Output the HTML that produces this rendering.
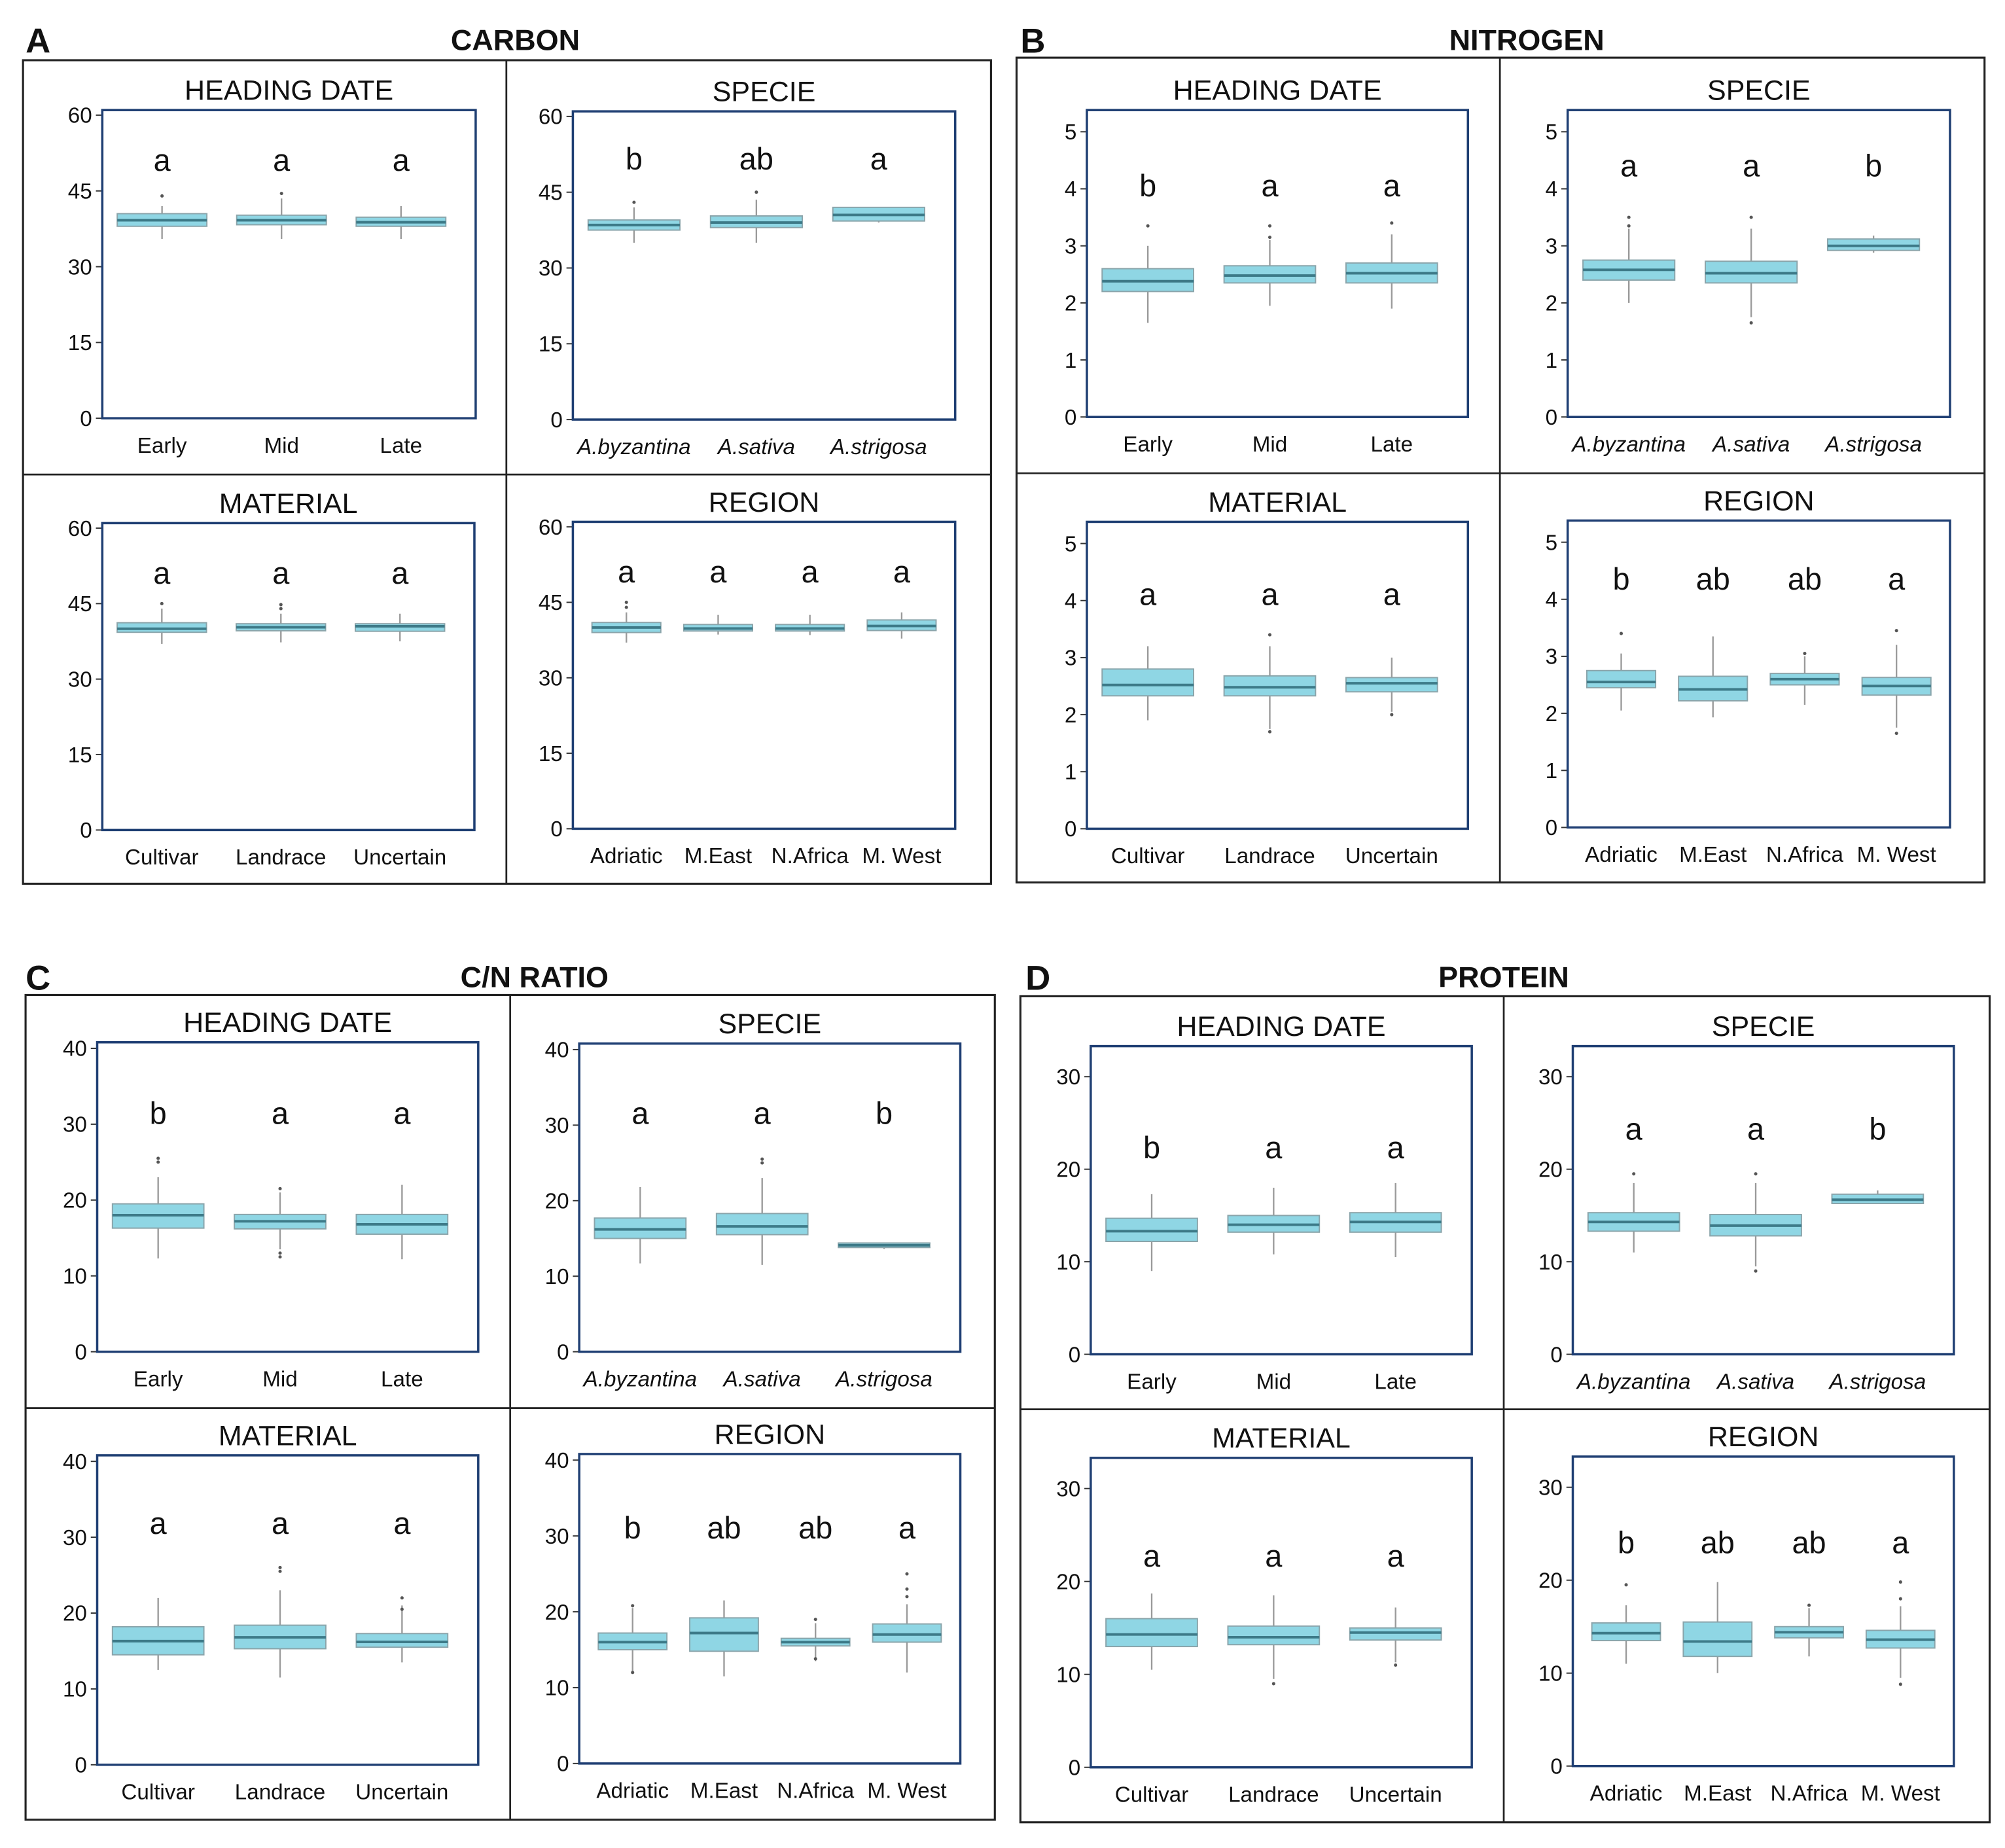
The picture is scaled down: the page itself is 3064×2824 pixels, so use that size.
<!DOCTYPE html>
<html><head><meta charset="utf-8">
<style>
html,body{margin:0;padding:0;background:#fff;}
svg{display:block;}
text{font-family:"Liberation Sans","DejaVu Sans",sans-serif;fill:#111;}
</style></head>
<body>
<svg id="fig" width="3064" height="2824" viewBox="0 0 1568 1445" xmlns="http://www.w3.org/2000/svg"></svg>
<script>
// ---- data: categories ----
const catHD = ["Early","Mid","Late"];
const catSP = ["A.byzantina","A.sativa","A.strigosa"];
const catMA = ["Cultivar","Landrace","Uncertain"];
const catRE = ["Adriatic","M.East","N.Africa","M. West"];
// ---- tick labels ----
const ticksC = [0,15,30,45,60];
const ticksN = [0,1,2,3,4,5];
const ticksR = [0,10,20,30,40];
const ticksP = [0,10,20,30];
// ---- box stats [whiskerLow, q1, median, q3, whiskerHigh] ----
const carbonHD = [[35.5,38,39.2,40.5,42],[35.5,38.3,39.2,40.2,43.5],[35.5,38,38.8,39.8,42]];
const carbonHDout = [[44],[44.5],[]];
const carbonSP = [[35,37.5,38.5,39.5,42],[35,38,39,40.3,43.5],[39,39.3,40.5,42,42]];
const carbonSPout = [[43],[45],[]];
const carbonMA = [[37,39.3,40,41.2,44],[37.3,39.6,40.3,41,43],[37.5,39.5,40.5,41,43]];
const carbonMAout = [[45],[44,44.8],[]];
const carbonRE = [[37,39,40,41,43],[38.6,39.3,39.8,40.6,42.5],[38.5,39.3,39.8,40.6,42.5],[37.8,39.4,40.3,41.5,43]];
const carbonREout = [[44,45],[],[],[]];
const nitroHD = [[1.65,2.2,2.38,2.6,3.0],[1.95,2.35,2.48,2.65,3.1],[1.9,2.35,2.52,2.7,3.2]];
const nitroHDout = [[3.35],[3.15,3.35],[3.4]];
const nitroSP = [[2.0,2.4,2.58,2.75,3.3],[1.75,2.35,2.52,2.73,3.3],[2.88,2.92,3.0,3.12,3.18]];
const nitroSPout = [[3.35,3.5],[3.5,1.65],[]];
const nitroMA = [[1.9,2.33,2.52,2.8,3.2],[1.75,2.33,2.48,2.68,3.2],[2.05,2.4,2.55,2.65,3.0]];
const nitroMAout = [[],[3.4,1.7],[2.0]];
const nitroRE = [[2.05,2.45,2.55,2.75,3.05],[1.93,2.22,2.42,2.65,3.35],[2.15,2.5,2.6,2.7,3.0],[1.75,2.32,2.48,2.63,3.2]];
const nitroREout = [[3.4],[],[3.05],[3.45,1.65]];
const ratioHD = [[12.3,16.3,18,19.5,23],[13.5,16.2,17.2,18.1,21],[12.2,15.5,16.8,18.1,22]];
const ratioHDout = [[25,25.5],[21.5,12.5,13],[]];
const ratioSP = [[11.7,15,16.2,17.7,21.8],[11.5,15.5,16.6,18.3,23],[13.6,13.8,14.1,14.4,14.4]];
const ratioSPout = [[],[25,25.5],[]];
const ratioMA = [[12.5,14.5,16.3,18.2,22],[11.5,15.3,16.8,18.4,23],[13.5,15.5,16.2,17.3,21]];
const ratioMAout = [[],[25.5,26],[22,20.5]];
const ratioRE = [[12,15,16,17.2,20.5],[11.5,14.8,17.2,19.2,21.5],[13.5,15.5,16,16.5,18.5],[12,16,17,18.4,21]];
const ratioREout = [[20.8,12],[],[19,13.8],[22,23,25]];
const protHD = [[9,12.2,13.3,14.7,17.3],[10.8,13.2,14,15,18],[10.5,13.2,14.3,15.3,18.5]];
const protHDout = [[],[],[]];
const protSP = [[11,13.3,14.3,15.3,18.5],[9.5,12.8,13.9,15.1,18.5],[16.3,16.3,16.7,17.3,17.7]];
const protSPout = [[19.5],[19.5,9],[]];
const protMA = [[10.5,13,14.3,16,18.7],[9.5,13.2,14,15.2,18.5],[11.3,13.7,14.5,15,17.2]];
const protMAout = [[],[9],[11]];
const protRE = [[11,13.5,14.3,15.4,17.3],[10,11.8,13.4,15.5,19.8],[11.8,13.8,14.4,15,17],[9.5,12.7,13.6,14.6,17.2]];
const protREout = [[19.5],[],[17.3],[18,19.8,8.8]];
// ---- significance letters ----
const lettersC = [["a","a","a"],["b","ab","a"],["a","a","a"],["a","a","a","a"]];
const lettersN = [["b","a","a"],["a","a","b"],["a","a","a"],["b","ab","ab","a"]];
const lettersR = [["b","a","a"],["a","a","b"],["a","a","a"],["b","ab","ab","a"]];
const lettersP = [["b","a","a"],["a","a","b"],["a","a","a"],["b","ab","ab","a"]];
const letterValC = [51,51.5,51,51];
const letterValN = [4.05,4.4,4.1,4.35];
const letterValR = [31.4,31.5,31.8,31];
const letterValP = [22.3,24.3,22.7,24];

const NS = "http://www.w3.org/2000/svg";
const svg = document.getElementById("fig");
function mk(tag, attrs, parent, txt){
  const e = document.createElementNS(NS, tag);
  for (const k in attrs) e.setAttribute(k, attrs[k]);
  if (txt !== undefined) e.textContent = txt;
  (parent||svg).appendChild(e);
  return e;
}

const panels = [
  {id:"carbon", letter:"A", title:"CARBON", lx:20, tx:403, ty:39, box:[18,47,775,691], dv:396, dh:371,
   ymax:61, ticks:ticksC, letters:lettersC, lv:letterValC,
   subs:[["HEADING DATE",[80,86,372,327],catHD,carbonHD,carbonHDout],
         ["SPECIE",[448,87,747,328],catSP,carbonSP,carbonSPout],
         ["MATERIAL",[80,409,371,649],catMA,carbonMA,carbonMAout],
         ["REGION",[448,408,747,648],catRE,carbonRE,carbonREout]]},
  {id:"nitrogen", letter:"B", title:"NITROGEN", lx:798, tx:1194, ty:39, box:[795,45,1552,690], dv:1173, dh:370,
   ymax:5.38, ticks:ticksN, letters:lettersN, lv:letterValN,
   subs:[["HEADING DATE",[850,86,1148,326],catHD,nitroHD,nitroHDout],
         ["SPECIE",[1226,86,1525,326],catSP,nitroSP,nitroSPout],
         ["MATERIAL",[850,408,1148,648],catMA,nitroMA,nitroMAout],
         ["REGION",[1226,407,1525,647],catRE,nitroRE,nitroREout]]},
  {id:"cn-ratio", letter:"C", title:"C/N RATIO", lx:20, tx:418, ty:772, box:[20,778,778,1423], dv:399, dh:1101,
   ymax:40.8, ticks:ticksR, letters:lettersR, lv:letterValR,
   subs:[["HEADING DATE",[76,815,374,1057],catHD,ratioHD,ratioHDout],
         ["SPECIE",[453,816,751,1057],catSP,ratioSP,ratioSPout],
         ["MATERIAL",[76,1138,374,1380],catMA,ratioMA,ratioMAout],
         ["REGION",[453,1137,751,1379],catRE,ratioRE,ratioREout]]},
  {id:"protein", letter:"D", title:"PROTEIN", lx:802, tx:1176, ty:772, box:[798,779,1556,1425], dv:1176, dh:1102,
   ymax:33.3, ticks:ticksP, letters:lettersP, lv:letterValP,
   subs:[["HEADING DATE",[853,818,1151,1059],catHD,protHD,protHDout],
         ["SPECIE",[1230,818,1528,1059],catSP,protSP,protSPout],
         ["MATERIAL",[853,1140,1151,1382],catMA,protMA,protMAout],
         ["REGION",[1230,1139,1528,1381],catRE,protRE,protREout]]}
];

panels.forEach(p=>{
  const g = mk("g",{});
  
  
  const pl = mk("text",{x:p.lx,y:p.ty+2,"font-size":27,"font-weight":"bold"},g,p.letter);
  
  
  const pt = mk("text",{x:p.tx,y:p.ty,"font-size":23,"font-weight":"bold","text-anchor":"middle"},g,p.title);
  
  
  const b = p.box;
  const ob = mk("rect",{x:b[0],y:b[1],width:b[2]-b[0],height:b[3]-b[1],fill:"none",stroke:"#222","stroke-width":1.6},g);
  
  
  mk("line",{x1:p.dv,y1:b[1],x2:p.dv,y2:b[3],stroke:"#222","stroke-width":1.4},g);
  mk("line",{x1:b[0],y1:p.dh,x2:b[2],y2:p.dh,stroke:"#222","stroke-width":1.4},g);

  p.subs.forEach((s,si)=>{
    const [title, r, cats, stats, outs] = s;
    const sg = mk("g",{},g);
    const key = p.id+'-'+title.toLowerCase().replace(/ /g,'-');
    
    
    const x0=r[0], y0=r[1], x1=r[2], y1=r[3], w=x1-x0;
    const ys = v => y1 - (v/p.ymax)*(y1-y0);
    const n = cats.length;
    const first = n===3 ? 0.16 : 0.14;
    const step = n===3 ? 0.32 : 0.24;
    const xs = i => x0 + w*(first + i*step);
    const bw = 0.72*w/n;
    const st = mk("text",{x:(x0+x1)/2,y:y0-8,"font-size":22,"text-anchor":"middle"},sg,title);
    
    
    p.ticks.forEach(t=>{
      const y = ys(t);
      mk("line",{x1:x0-5,y1:y,x2:x0,y2:y,stroke:"#333","stroke-width":1},sg);
      const tl = mk("text",{x:x0-8,y:y+6,"font-size":17,"text-anchor":"end"},sg,String(t));
      
      
    });
    stats.forEach((d,i)=>{
      const cx = xs(i);
      const bg = mk("g",{},sg);
      
      
      mk("line",{x1:cx,y1:ys(d[0]),x2:cx,y2:ys(d[4]),stroke:"#9a9a9a","stroke-width":1.2},bg);
      mk("rect",{x:cx-bw/2,y:ys(d[3]),width:bw,height:Math.max(1.5,ys(d[1])-ys(d[3])),fill:"#8fd6e4",stroke:"#8aa4aa","stroke-width":1},bg);
      mk("line",{x1:cx-bw/2,y1:ys(d[2]),x2:cx+bw/2,y2:ys(d[2]),stroke:"#3d7a88","stroke-width":2},bg);
      outs[i].forEach(o=>{
        const oc = mk("circle",{cx:cx,cy:ys(o),r:1.3,fill:"#555"},bg);
        
        
      });
      const lt = mk("text",{x:cx,y:ys(p.lv[si])+8,"font-size":24,"text-anchor":"middle"},sg,p.letters[si][i]);
      
      
      const xl = mk("text",{x:cx,y:y1+27,"font-size":17,"text-anchor":"middle","font-style":title==="SPECIE"?"italic":"normal"},sg,cats[i]);
      
      
    });
    const fr = mk("rect",{x:x0,y:y0,width:w,height:y1-y0,fill:"none",stroke:"#1f3f73","stroke-width":1.8},sg);
    
    
  });
});
</script>
</body></html>
